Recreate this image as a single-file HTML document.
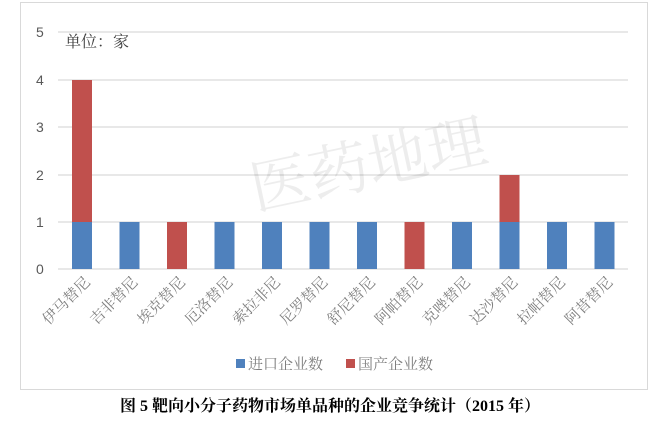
<!DOCTYPE html>
<html><head><meta charset="utf-8"><style>
body{margin:0;background:#fff;width:656px;height:426px;overflow:hidden;font-family:"Liberation Sans","Noto Sans CJK SC",sans-serif;}
</style></head><body>
<svg width="656" height="426" xmlns="http://www.w3.org/2000/svg" style="position:absolute;left:0;top:0">
<rect x="20.5" y="2.5" width="627" height="387" fill="#fff" stroke="#d9d9d9"/>
<g stroke="#d9d9d9" stroke-width="1.2">
<line x1="58" x2="628" y1="32" y2="32"/><line x1="58" x2="628" y1="80" y2="80"/>
<line x1="58" x2="628" y1="127" y2="127"/><line x1="58" x2="628" y1="175" y2="175"/>
<line x1="58" x2="628" y1="222" y2="222"/><line x1="58" x2="628" y1="269" y2="269"/>
</g>
<g font-size="14" fill="#595959" font-family="Liberation Sans,sans-serif">
<text x="36" y="37">5</text><text x="36" y="85">4</text><text x="36" y="132">3</text>
<text x="36" y="180">2</text><text x="36" y="227">1</text><text x="36" y="274">0</text>
</g>
<text x="65" y="47" font-size="16" fill="#404040" font-family="Liberation Serif,Noto Serif CJK SC,serif">单位：家</text>
<g fill="#4f81bd">
<rect x="72" y="222" width="20" height="47"/><rect x="119.5" y="222" width="20" height="47"/>
<rect x="214.5" y="222" width="20" height="47"/><rect x="262" y="222" width="20" height="47"/>
<rect x="309.5" y="222" width="20" height="47"/><rect x="357" y="222" width="20" height="47"/>
<rect x="452" y="222" width="20" height="47"/><rect x="499.5" y="222" width="20" height="47"/>
<rect x="547" y="222" width="20" height="47"/><rect x="594.5" y="222" width="20" height="47"/>
</g>
<g fill="#c0504d">
<rect x="72" y="80" width="20" height="142"/><rect x="167" y="222" width="20" height="47"/>
<rect x="404.5" y="222" width="20" height="47"/><rect x="499.5" y="175" width="20" height="47"/>
</g>
<text x="250" y="200" font-size="60" fill="#000" fill-opacity="0.07" transform="rotate(-12 300 180)" font-family="Noto Serif CJK SC,serif">医药地理</text>
<g font-size="15" fill="#7f7f7f" text-anchor="end" font-family="Liberation Serif,Noto Serif CJK SC,serif">
<text transform="translate(91,283) rotate(-45)">伊马替尼</text>
<text transform="translate(138.5,283) rotate(-45)">吉非替尼</text>
<text transform="translate(186,283) rotate(-45)">埃克替尼</text>
<text transform="translate(233.5,283) rotate(-45)">厄洛替尼</text>
<text transform="translate(281,283) rotate(-45)">索拉非尼</text>
<text transform="translate(328.5,283) rotate(-45)">尼罗替尼</text>
<text transform="translate(376,283) rotate(-45)">舒尼替尼</text>
<text transform="translate(423.5,283) rotate(-45)">阿帕替尼</text>
<text transform="translate(471,283) rotate(-45)">克唑替尼</text>
<text transform="translate(518.5,283) rotate(-45)">达沙替尼</text>
<text transform="translate(566,283) rotate(-45)">拉帕替尼</text>
<text transform="translate(613.5,283) rotate(-45)">阿昔替尼</text>
</g>
<rect x="236" y="359" width="9" height="9" fill="#4f81bd"/>
<text x="248" y="369" font-size="15" fill="#7f7f7f" font-family="Liberation Serif,Noto Serif CJK SC,serif">进口企业数</text>
<rect x="346" y="359" width="9" height="9" fill="#c0504d"/>
<text x="358" y="369" font-size="15" fill="#7f7f7f" font-family="Liberation Serif,Noto Serif CJK SC,serif">国产企业数</text>
<text x="330" y="411" font-size="16" font-weight="bold" fill="#000" text-anchor="middle" font-family="Liberation Serif,Noto Serif CJK SC,serif">图 5  靶向小分子药物市场单品种的企业竞争统计（2015 年）</text>
</svg>
</body></html>
